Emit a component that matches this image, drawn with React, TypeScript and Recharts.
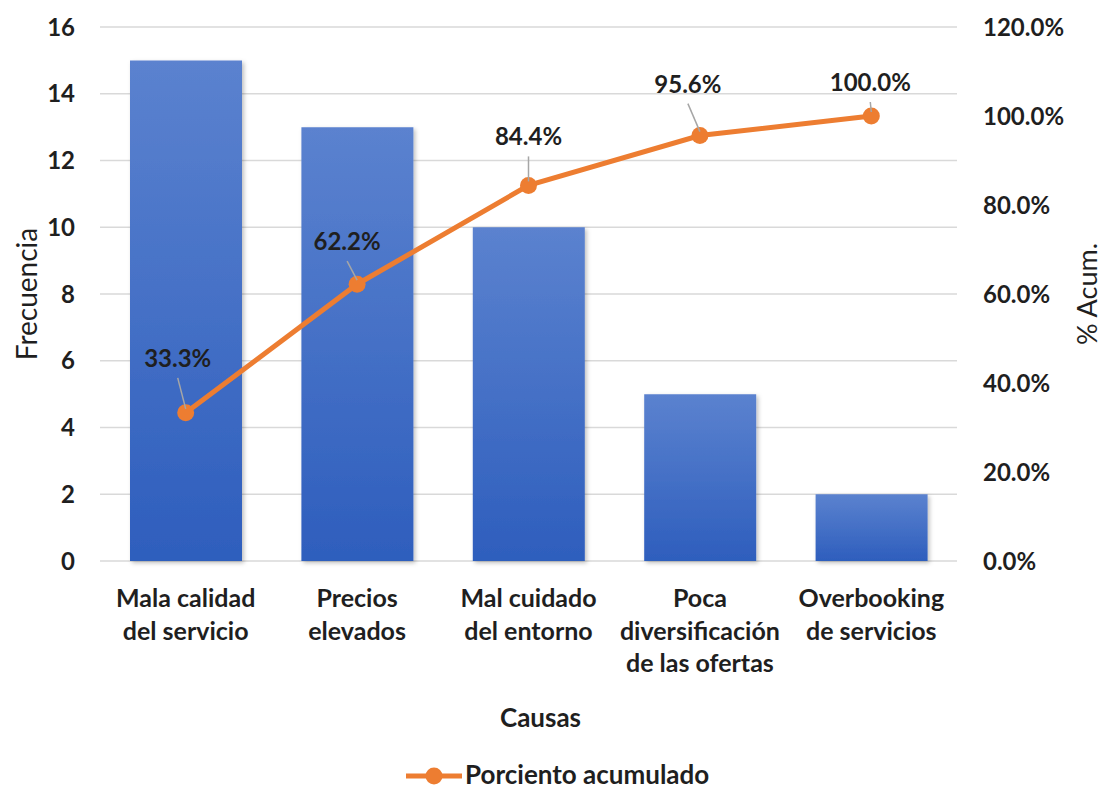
import React from 'react';
import { ComposedChart, Bar, Line, XAxis, YAxis, CartesianGrid, Legend, LabelList, Label } from 'recharts';

const categoryLines: string[][] = [
  ['Mala calidad', 'del servicio'],
  ['Precios', 'elevados'],
  ['Mal cuidado', 'del entorno'],
  ['Poca', 'diversificación', 'de las ofertas'],
  ['Overbooking', 'de servicios'],
];
const categories = categoryLines.map((l) => l.join(' '));
const frecuencia = [15, 13, 10, 5, 2];
const acumulado = [33.3, 62.2, 84.4, 95.6, 100.0];
const leftTicks = [0, 2, 4, 6, 8, 10, 12, 14, 16];
const rightTicks = [0, 20, 40, 60, 80, 100, 120];

const data = categories.map((name, i) => ({
  name,
  frecuencia: frecuencia[i],
  acumulado: acumulado[i],
}));

// label placement (dx, baseline dy) relative to each point
const labelOffsets: [number, number][] = [
  [-8, -46],
  [-10, -34],
  [0, -40],
  [-12, -43],
  [-1, -25],
];

const FONT = 'Lato, "Open Sans", sans-serif';
const TEXT = '#1f1f1f';
const ORANGE = '#ed7d31';

const XTick = (props: any) => {
  const { x, y, payload } = props;
  const lines = categoryLines[payload.index] || [payload.value];
  return (
    <g>
      {lines.map((ln, i) => (
        <text
          key={i}
          x={x}
          y={y + 44 + i * 32.5}
          textAnchor="middle"
          fontFamily={FONT}
          fontSize={25}
          fontWeight={700}
          fill={TEXT}
        >
          {ln}
        </text>
      ))}
    </g>
  );
};

const PointLabel = (props: any) => {
  const { x, y, value, index } = props;
  const [dx, dy] = labelOffsets[index] || [0, -30];
  const cx = x + dx;
  const base = y + dy;
  return (
    <g>
      <line x1={cx} y1={base + 11} x2={x} y2={y - 4} stroke="#a6a6a6" strokeWidth={1.5} />
      <text
        x={cx}
        y={base}
        textAnchor="middle"
        fontFamily={FONT}
        fontSize={24}
        fontWeight={700}
        fill={TEXT}
      >
        {Number(value).toFixed(1)}%
      </text>
    </g>
  );
};

const LegendContent = () => (
  <svg width={1105} height={30} style={{ display: 'block' }}>
    <line x1={406} y1={17} x2={462} y2={17} stroke={ORANGE} strokeWidth={5} />
    <circle cx={434} cy={17} r={8.5} fill={ORANGE} />
    <text
      x={465}
      y={25}
      fontFamily={FONT}
      fontSize={26}
      fontWeight={700}
      fill={TEXT}
    >
      Porciento acumulado
    </text>
  </svg>
);

export default function App() {
  return (
    <div style={{ position: 'absolute', left: 0, top: 0, background: '#fff' }}>
      <ComposedChart
        width={1105}
        height={789}
        data={data}
        margin={{ top: 27, right: 0, bottom: 0, left: 0 }}
        style={{ fontFamily: FONT }}
      >
        <defs>
          <linearGradient id="barGrad" x1="0" y1="0" x2="0" y2="1">
            <stop offset="0%" stopColor="#5b82cf" />
            <stop offset="100%" stopColor="#2e5ebd" />
          </linearGradient>
          <filter id="shadow" x="-10%" y="-10%" width="130%" height="130%">
            <feDropShadow dx="2" dy="2" stdDeviation="2" floodColor="#000" floodOpacity="0.25" />
          </filter>
        </defs>
        <CartesianGrid yAxisId="left" vertical={false} stroke="#d9d9d9" strokeWidth={1.5} />
        <XAxis
          dataKey="name"
          height={228}
          tickLine={false}
          axisLine={false}
          tickSize={0}
          tick={<XTick />}
          interval={0}
        >
          <Label
            content={(p: any) => {
              const vb = p.viewBox || { x: 100, width: 857, y: 561 };
              return (
                <text
                  x={vb.x + vb.width / 2 + 12}
                  y={vb.y + 166}
                  textAnchor="middle"
                  fontFamily={FONT}
                  fontSize={26}
                  fontWeight={700}
                  fill={TEXT}
                >
                  Causas
                </text>
              );
            }}
          />
        </XAxis>
        <YAxis
          yAxisId="left"
          orientation="left"
          width={100}
          domain={[0, 16]}
          ticks={leftTicks}
          tickLine={false}
          axisLine={false}
          tickSize={0}
          tickMargin={25}
          tick={{ fill: TEXT, fontSize: 24, fontWeight: 700, fontFamily: FONT }}
        >
          <Label
            content={(p: any) => {
              const vb = p.viewBox || { x: 0, y: 27, width: 100, height: 534 };
              const cx = vb.x + 26;
              const cy = vb.y + vb.height / 2;
              return (
                <text
                  x={cx}
                  y={cy}
                  transform={`rotate(-90 ${cx} ${cy})`}
                  textAnchor="middle"
                  dominantBaseline="central"
                  fontFamily={FONT}
                  fontSize={28}
                  fill={TEXT}
                >
                  Frecuencia
                </text>
              );
            }}
          />
        </YAxis>
        <YAxis
          yAxisId="right"
          orientation="right"
          width={148}
          domain={[0, 120]}
          ticks={rightTicks}
          tickLine={false}
          axisLine={false}
          tickSize={0}
          tickMargin={26}
          tickFormatter={(v: number) => `${v.toFixed(1)}%`}
          tick={{ fill: TEXT, fontSize: 24, fontWeight: 700, fontFamily: FONT }}
        >
          <Label
            content={(p: any) => {
              const vb = p.viewBox || { x: 957, y: 27, width: 148, height: 534 };
              const cx = vb.x + 129;
              const cy = vb.y + vb.height / 2;
              return (
                <text
                  x={cx}
                  y={cy}
                  transform={`rotate(-90 ${cx} ${cy})`}
                  textAnchor="middle"
                  dominantBaseline="central"
                  fontFamily={FONT}
                  fontSize={27}
                  fill={TEXT}
                >
                  % Acum.
                </text>
              );
            }}
          />
        </YAxis>
        <Bar
          yAxisId="left"
          dataKey="frecuencia"
          barSize={112}
          fill="url(#barGrad)"
          filter="url(#shadow)"
          isAnimationActive={false}
          legendType="none"
        />
        <Line
          yAxisId="right"
          dataKey="acumulado"
          name="Porciento acumulado"
          stroke={ORANGE}
          strokeWidth={5}
          dot={{ r: 8.5, fill: ORANGE, stroke: ORANGE, strokeWidth: 0 }}
          activeDot={false}
          isAnimationActive={false}
        >
          <LabelList dataKey="acumulado" content={<PointLabel />} />
        </Line>
        <Legend
          verticalAlign="middle"
          align="center"
          layout="horizontal"
          wrapperStyle={{ top: 759, left: 0, width: 1105, height: 30 }}
          content={<LegendContent />}
        />
      </ComposedChart>
    </div>
  );
}
